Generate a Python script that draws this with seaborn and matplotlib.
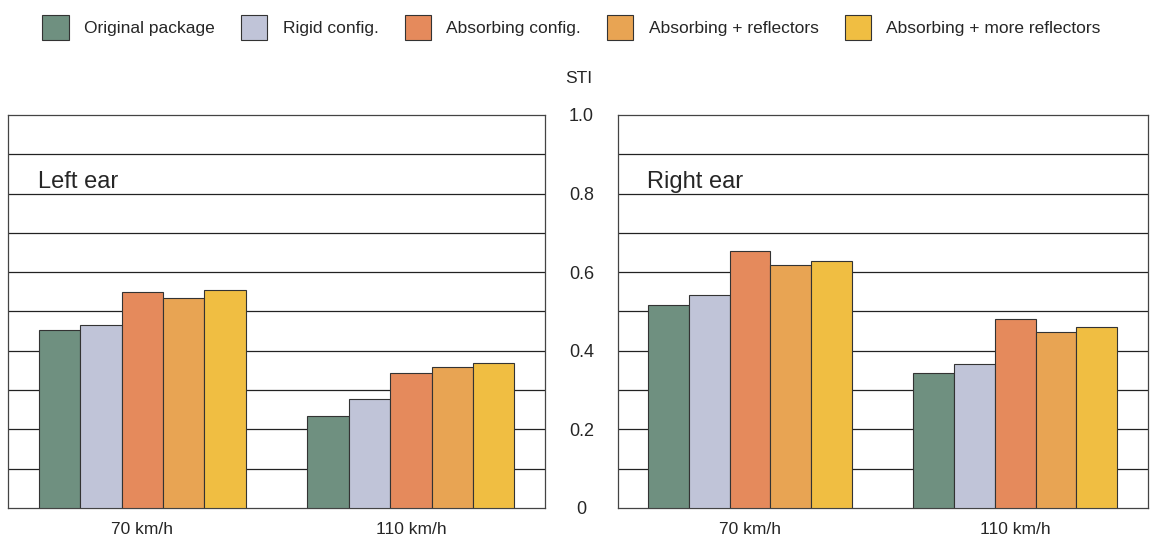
import pandas as pd
import matplotlib
matplotlib.use("Agg")
import matplotlib.pyplot as plt
from matplotlib import font_manager
from matplotlib.patches import Patch
import seaborn as sns

speeds = ["70 km/h", "110 km/h"]
configs = ["Original package", "Rigid config.", "Absorbing config.",
           "Absorbing + reflectors", "Absorbing + more reflectors"]
colors = ["#6f9080", "#c0c4d8", "#e58a5c", "#e8a453", "#f0be42"]

# STI values, one list per speed, in config order
left_70 = [0.453, 0.466, 0.550, 0.534, 0.555]
left_110 = [0.234, 0.277, 0.344, 0.359, 0.369]
right_70 = [0.517, 0.543, 0.653, 0.619, 0.629]
right_110 = [0.343, 0.367, 0.481, 0.449, 0.461]

yticks = [0, 0.2, 0.4, 0.6, 0.8, 1.0]
ytick_labels = ["0", "0.2", "0.4", "0.6", "0.8", "1.0"]

sns.set_style("white")
installed = {f.name for f in font_manager.fontManager.ttflist}
narrow = "Liberation Sans Narrow" in installed
if narrow:
    plt.rcParams['font.family'] = ['Liberation Sans Narrow', 'DejaVu Sans']
    fs = 13.5
else:
    plt.rcParams['font.family'] = ['Liberation Sans', 'DejaVu Sans']
    fs = 12.5

def make_frame(vals_70, vals_110):
    rows = []
    for c, v in zip(configs, vals_70):
        rows.append({"speed": speeds[0], "config": c, "sti": v})
    for c, v in zip(configs, vals_110):
        rows.append({"speed": speeds[1], "config": c, "sti": v})
    return pd.DataFrame(rows)

left = make_frame(left_70, left_110)
right = make_frame(right_70, right_110)

fig = plt.figure(figsize=(11.5, 5.47), dpi=100)
ax_l = fig.add_axes([0.007, 0.0713, 0.467, 0.7185])
ax_r = fig.add_axes([0.537, 0.0713, 0.461, 0.7185])

for ax, df, title in [(ax_l, left, "Left ear"), (ax_r, right, "Right ear")]:
    sns.barplot(data=df, x="speed", y="sti", hue="config", hue_order=configs,
                palette=colors, saturation=1, ax=ax, width=0.77,
                edgecolor="#333333", linewidth=0.8, legend=False, zorder=3)
    ax.set_ylim(0, 1.0)
    ax.set_xlim(-0.5, 1.5)
    for g in [i / 10 for i in range(1, 10)]:
        ax.axhline(g, color="#222222", linewidth=0.9, zorder=1)
    for s in ax.spines.values():
        s.set_color("#444444")
        s.set_linewidth(0.9)
    ax.set_xlabel("")
    ax.set_ylabel("")
    ax.tick_params(axis="x", length=0, pad=10, labelsize=fs)
    ax.text(0.056, 0.83, title, transform=ax.transAxes, fontsize=fs + 4.5,
            va="center", ha="left")

ax_l.set_yticks(yticks)
ax_l.set_yticklabels([])
ax_l.tick_params(axis="y", length=0)
ax_r.set_yticks(yticks)
ax_r.set_yticklabels(ytick_labels)
ax_r.tick_params(axis="y", length=0, pad=26, labelsize=fs + 0.5)
for lbl in ax_r.get_yticklabels():
    lbl.set_horizontalalignment("center")

fig.text(0.503, 0.857, "STI", ha="center", va="center", fontsize=fs)

handles = [Patch(facecolor=c, edgecolor="#333333", linewidth=0.8) for c in colors]
fig.legend(handles, configs, loc="center", bbox_to_anchor=(0.497, 0.95),
           ncol=5, frameon=False, fontsize=fs, handlelength=1.5,
           handleheight=1.9, columnspacing=1.5, handletextpad=0.9)

fig.savefig("out.png", dpi=100)
